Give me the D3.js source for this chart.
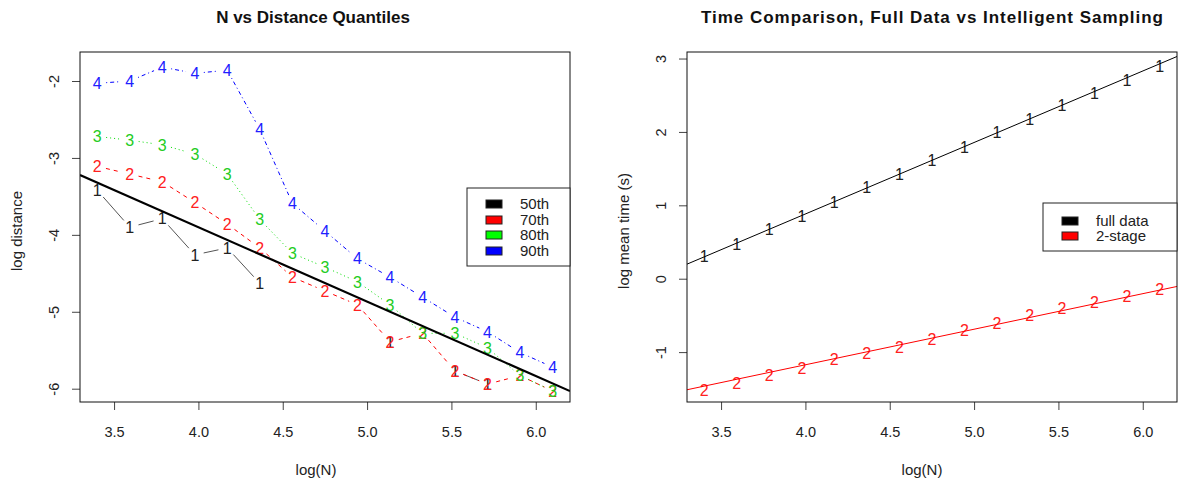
<!DOCTYPE html>
<html lang="en">
<head>
    <meta charset="UTF-8">
    <title>N vs Distance Quantiles / Time Comparison</title>
    <script src="https://cdn.jsdelivr.net/npm/d3@7"></script>
    <style>
        body { margin: 0; background: #fff; }
        svg { display: block; font-family: "Liberation Sans", Arial, sans-serif; }
        .tick text { font-size: 14.5px; fill: #222; }
        .tick line { stroke: #444; }
    </style>
</head>
<body>
    <svg id="chart" width="1182" height="482"></svg>
    <script>
        // x values shared by both panels
        const logN = [3.4, 3.593, 3.786, 3.979, 4.171, 4.364, 4.557, 4.75, 4.943, 5.136, 5.329, 5.521, 5.714, 5.907, 6.1];

        // left panel: log distance quantiles (null = missing)
        const q50 = [-3.42, -3.90, -3.79, -4.26, -4.17, -4.63, null, null, null, -5.39, null, -5.77, -5.94, null, null];
        const q70 = [-3.11, -3.21, -3.31, -3.58, -3.86, -4.17, -4.55, -4.73, -4.91, -5.39, -5.28, -5.77, -5.94, -5.83, -6.03];
        const q80 = [-2.72, -2.77, -2.83, -2.95, -3.21, -3.80, -4.24, -4.42, -4.61, -4.91, -5.28, -5.28, -5.47, -5.83, -6.03];
        const q90 = [-2.03, -2.00, -1.82, -1.90, -1.86, -2.63, -3.59, -3.95, -4.31, -4.55, -4.81, -5.07, -5.26, -5.53, -5.72];
        const quantNames = ['50th', '70th', '80th', '90th'];
        const distFit = [-0.033, -0.967]; // intercept, slope

        // right panel: log mean time
        const timeFull = [0.30, 0.47, 0.67, 0.85, 1.04, 1.24, 1.42, 1.61, 1.79, 1.99, 2.17, 2.36, 2.53, 2.71, 2.89];
        const timeTwoStage = [-1.52, -1.42, -1.31, -1.22, -1.10, -1.01, -0.93, -0.82, -0.70, -0.61, -0.50, -0.40, -0.32, -0.24, -0.14];
        const timeNames = ['full data', '2-stage'];
        const fullFit = [-3.014, 0.974];
        const twoStageFit = [-3.111, 0.4845];

        // ticks
        const xTicks = [3.5, 4.0, 4.5, 5.0, 5.5, 6.0];
        const distTicks = [-2, -3, -4, -5, -6];
        const timeTicks = [3, 2, 1, 0, -1];

        const svg = d3.select('#chart');

        // plot frame + axes, R style
        function drawFrame(x, y, yTickVals, title, titleX, titleLen, xlabX, ylab) {
            const [x0, x1] = x.range();
            const [y1, y0] = y.range();

            svg.append('g')
                .attr('transform', `translate(0,${y1})`)
                .call(d3.axisBottom(x).tickValues(xTicks).tickFormat(d3.format('.1f')).tickSize(8).tickSizeOuter(0))
                .call(g => g.select('.domain').remove())
                .call(g => g.selectAll('text').attr('y', 35).attr('dy', 0));

            svg.append('g')
                .attr('transform', `translate(${x0},0)`)
                .call(d3.axisLeft(y).tickValues(yTickVals).tickFormat(d3.format('d')).tickSize(8).tickSizeOuter(0))
                .call(g => g.select('.domain').remove())
                .call(g => g.selectAll('text')
                    .attr('x', 0).attr('dy', 0)
                    .attr('text-anchor', 'middle')
                    .attr('transform', 'translate(-21,0) rotate(-90)')
                    .text(d => d < 0 ? '-' + Math.abs(d) : d));

            svg.append('rect')
                .attr('x', x0).attr('y', y0)
                .attr('width', x1 - x0).attr('height', y1 - y0)
                .attr('fill', 'none').attr('stroke', '#111').attr('stroke-width', 1);

            const t = svg.append('text')
                .attr('x', titleX).attr('y', 23)
                .attr('text-anchor', 'middle')
                .attr('font-size', 17).attr('font-weight', 'bold').attr('fill', '#111')
                .text(title);
            if (titleLen) t.attr('textLength', titleLen).attr('lengthAdjust', 'spacing');

            svg.append('text')
                .attr('x', xlabX).attr('y', 475)
                .attr('text-anchor', 'middle')
                .attr('font-size', 15).attr('fill', '#222')
                .text('log(N)');

            const ylabX = x0 - 58;
            svg.append('text')
                .attr('transform', `translate(${ylabX},${(y0 + y1) / 2 + 4}) rotate(-90)`)
                .attr('text-anchor', 'middle')
                .attr('font-size', 15).attr('fill', '#222')
                .text(ylab);
        }

        function drawLegend(bx, by, bw, bh, names, fills, rowY) {
            const lg = svg.append('g');
            lg.append('rect')
                .attr('x', bx).attr('y', by).attr('width', bw).attr('height', bh)
                .attr('fill', '#fff').attr('stroke', '#222');
            names.forEach((n, i) => {
                lg.append('rect')
                    .attr('x', bx + 19).attr('y', rowY[i] - 4)
                    .attr('width', 16).attr('height', 8)
                    .attr('fill', fills[i]).attr('stroke', '#222');
                lg.append('text')
                    .attr('x', bx + 53).attr('y', rowY[i]).attr('dy', '0.36em')
                    .attr('font-size', 15).attr('fill', '#222')
                    .text(n);
            });
        }

        // ---------- Left panel ----------
        const xL = d3.scaleLinear().domain([3.298, 6.203]).range([80, 570]);
        const yL = d3.scaleLinear().domain([-6.173, -1.623]).range([402, 52]);

        const series = [
            { vals: q50, label: '1', text: '#222', line: '#555', dash: null },
            { vals: q70, label: '2', text: '#ff2020', line: '#ff0000', dash: '4,4' },
            { vals: q80, label: '3', text: '#22cc22', line: '#00dd00', dash: '1,3' },
            { vals: q90, label: '4', text: '#2020ff', line: '#0000ff', dash: '1,3,4,3' }
        ];

        svg.append('clipPath').attr('id', 'clipL')
            .append('rect').attr('x', 80).attr('y', 52).attr('width', 490).attr('height', 350);

        const gL = svg.append('g').attr('clip-path', 'url(#clipL)');

        // type = "b": segments with a gap around each label
        const gap = 9;
        series.forEach(s => {
            const pts = logN.map((v, i) => s.vals[i] == null ? null : [xL(v), yL(s.vals[i])]);
            for (let i = 0; i < pts.length - 1; i++) {
                const a = pts[i], b = pts[i + 1];
                if (!a || !b) continue;
                const dx = b[0] - a[0], dy = b[1] - a[1];
                const len = Math.hypot(dx, dy);
                if (len <= 2 * gap) continue;
                const ux = dx / len, uy = dy / len;
                gL.append('line')
                    .attr('x1', a[0] + ux * gap).attr('y1', a[1] + uy * gap)
                    .attr('x2', b[0] - ux * gap).attr('y2', b[1] - uy * gap)
                    .attr('stroke', s.line).attr('stroke-width', 1)
                    .attr('stroke-dasharray', s.dash);
            }
            gL.selectAll(null)
                .data(pts.filter(p => p))
                .enter()
                .append('text')
                .attr('x', p => p[0]).attr('y', p => p[1]).attr('dy', '0.36em')
                .attr('text-anchor', 'middle')
                .attr('font-size', 16).attr('fill', s.text)
                .text(s.label);
        });

        // fitted line
        const [dA, dB] = distFit;
        gL.append('line')
            .attr('x1', xL(3.298)).attr('y1', yL(dA + dB * 3.298))
            .attr('x2', xL(6.203)).attr('y2', yL(dA + dB * 6.203))
            .attr('stroke', '#000').attr('stroke-width', 2.2);

        drawFrame(xL, yL, distTicks, 'N vs Distance Quantiles', 313, null, 316, 'log distance');
        drawLegend(467, 188, 103, 78, quantNames, ['#000', '#ff0000', '#00ff00', '#0000ff'], [204, 220, 235, 251]);

        // ---------- Right panel ----------
        const xR = d3.scaleLinear().domain([3.298, 6.203]).range([687, 1177]);
        const yR = d3.scaleLinear().domain([-1.68, 3.089]).range([402, 52]);

        svg.append('clipPath').attr('id', 'clipR')
            .append('rect').attr('x', 687).attr('y', 52).attr('width', 490).attr('height', 350);
        const gR = svg.append('g').attr('clip-path', 'url(#clipR)');

        const timeSeries = [
            { vals: timeFull, fit: fullFit, label: '1', text: '#222', line: '#000' },
            { vals: timeTwoStage, fit: twoStageFit, label: '2', text: '#ff2020', line: '#ff0000' }
        ];

        timeSeries.forEach(s => {
            gR.selectAll(null)
                .data(logN.map((v, i) => [v, s.vals[i]]))
                .enter()
                .append('text')
                .attr('x', d => xR(d[0])).attr('y', d => yR(d[1])).attr('dy', '0.36em')
                .attr('text-anchor', 'middle')
                .attr('font-size', 16).attr('fill', s.text)
                .text(s.label);

            const [a, b] = s.fit;
            gR.append('line')
                .attr('x1', xR(3.298)).attr('y1', yR(a + b * 3.298))
                .attr('x2', xR(6.203)).attr('y2', yR(a + b * 6.203))
                .attr('stroke', s.line).attr('stroke-width', 1);
        });

        drawFrame(xR, yR, timeTicks, 'Time Comparison, Full Data vs Intelligent Sampling', 932, 462, 922, 'log mean time (s)');
        drawLegend(1043, 203, 134, 48, timeNames, ['#000', '#ff0000'], [221, 236]);
    </script>
</body>
</html>
